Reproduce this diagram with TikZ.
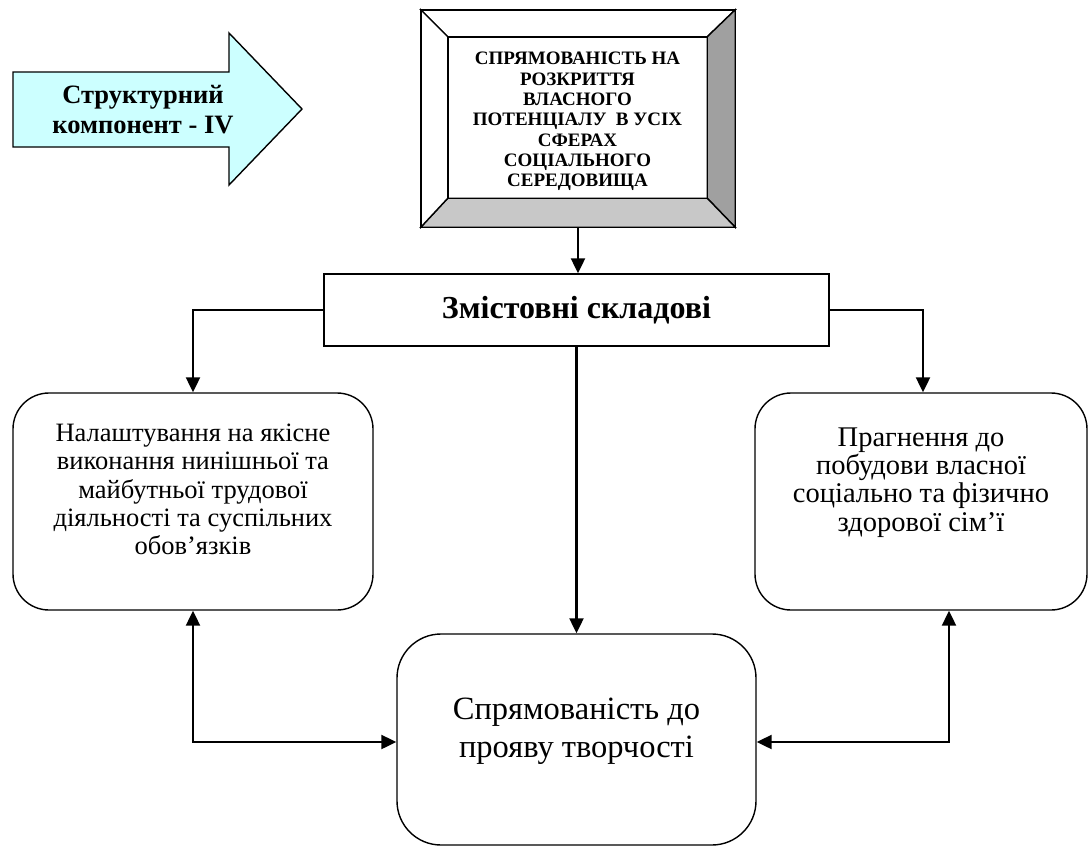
\documentclass[tikz,border=0pt]{standalone}
\usepackage{fontspec}
\setmainfont{Liberation Serif}
\usetikzlibrary{arrows.meta}
\definecolor{arrowfill}{HTML}{CCFFFF}
\definecolor{bevdark}{HTML}{A0A0A0}
\definecolor{bevlight}{HTML}{C8C8C8}
\begin{document}
\begin{tikzpicture}[x=1pt,y=-1pt,
  box/.style={draw, line width=1.4pt, inner sep=0pt},
  rbox/.style={box, rounded corners=36pt},
  conn/.style={line width=2.2pt, -{Triangle[length=15pt,width=14pt]}},
  biconn/.style={line width=2.2pt, {Triangle[length=15pt,width=14pt]}-{Triangle[length=15pt,width=14pt]}},
]
\useasboundingbox (0,0) rectangle (1088,847);

% block arrow
\draw[line width=1.4pt, fill=arrowfill] (13,72) -- (229,72) -- (229,33) -- (302,109) -- (229,185) -- (229,147) -- (13,147) -- cycle;
\node[align=center, font=\fontsize{26.5}{30}\bfseries\selectfont] (lbl) at (143,110) {Структурний\\компонент - IV};

% bevelled frame
\node[inner sep=0pt, minimum width=314pt, minimum height=217pt] (frame) at (578,118.5) {};
\node[inner sep=0pt, minimum width=259pt, minimum height=161pt] (inner) at (577.5,117.5) {};
\begin{scope}[line width=1.4pt, line join=miter]
  \filldraw[fill=white] (frame.north west) -- (frame.north east) -- (inner.north east) -- (inner.north west) -- cycle;
  \filldraw[fill=bevdark] (frame.north east) -- (frame.south east) -- (inner.south east) -- (inner.north east) -- cycle;
  \filldraw[fill=bevlight] (frame.south west) -- (frame.south east) -- (inner.south east) -- (inner.south west) -- cycle;
  \filldraw[fill=white] (frame.north west) -- (frame.south west) -- (inner.south west) -- (inner.north west) -- cycle;
  \draw (frame.north west) rectangle (frame.south east);
  \draw (inner.north west) rectangle (inner.south east);
\end{scope}
\node[align=center, font=\fontsize{19}{20.3}\bfseries\selectfont] (innertext) at ([yshift=-4pt]inner.center)
  {СПРЯМОВАНІСТЬ НА\\РОЗКРИТТЯ\\ВЛАСНОГО\\ПОТЕНЦІАЛУ\ \ В УСІХ\\СФЕРАХ\\СОЦІАЛЬНОГО\\СЕРЕДОВИЩА};

% content box
\node[box, minimum width=505pt, minimum height=72pt, font=\fontsize{32}{36}\bfseries\selectfont] (zm) at (576.5,310) {Змістовні складові};

% rounded boxes
\node[rbox, minimum width=360pt, minimum height=217pt] (L) at (193,501.5) {};
\node[align=center, font=\fontsize{26.5}{28.3}\selectfont] (Lt) at ([yshift=12pt]L.center) {Налаштування на якісне\\виконання нинішньої та\\майбутньої трудової\\діяльності та суспільних\\обов’язків};
\node[rbox, minimum width=332pt, minimum height=217pt] (R) at (921,501.5) {};
\node[align=center, font=\fontsize{28.5}{28.3}\selectfont] (Rt) at ([yshift=19pt]R.center) {Прагнення до\\побудови власної\\соціально та фізично\\здорової сім’ї};
\node[rbox, rounded corners=44pt, minimum width=359pt, minimum height=211pt] (B) at (576.5,739.5) {};
\node[align=center, font=\fontsize{32.5}{38}\selectfont] (Bt) at ([yshift=8pt]B.center) {Спрямованість до\\прояву творчості};

% connectors
\draw[conn] (frame.south) -- (frame.south |- zm.north);
\draw[conn] (zm.west) -| (L.north);
\draw[conn] (zm.east) -| ([xshift=2pt]R.north);
\draw[conn] (zm.south) -- (B.north);
\draw[biconn] (L.south) |- ([yshift=-2.5pt]B.west);
\draw[biconn] ([xshift=28pt]R.south) |- ([yshift=-2.5pt]B.east);
\end{tikzpicture}
\end{document}
